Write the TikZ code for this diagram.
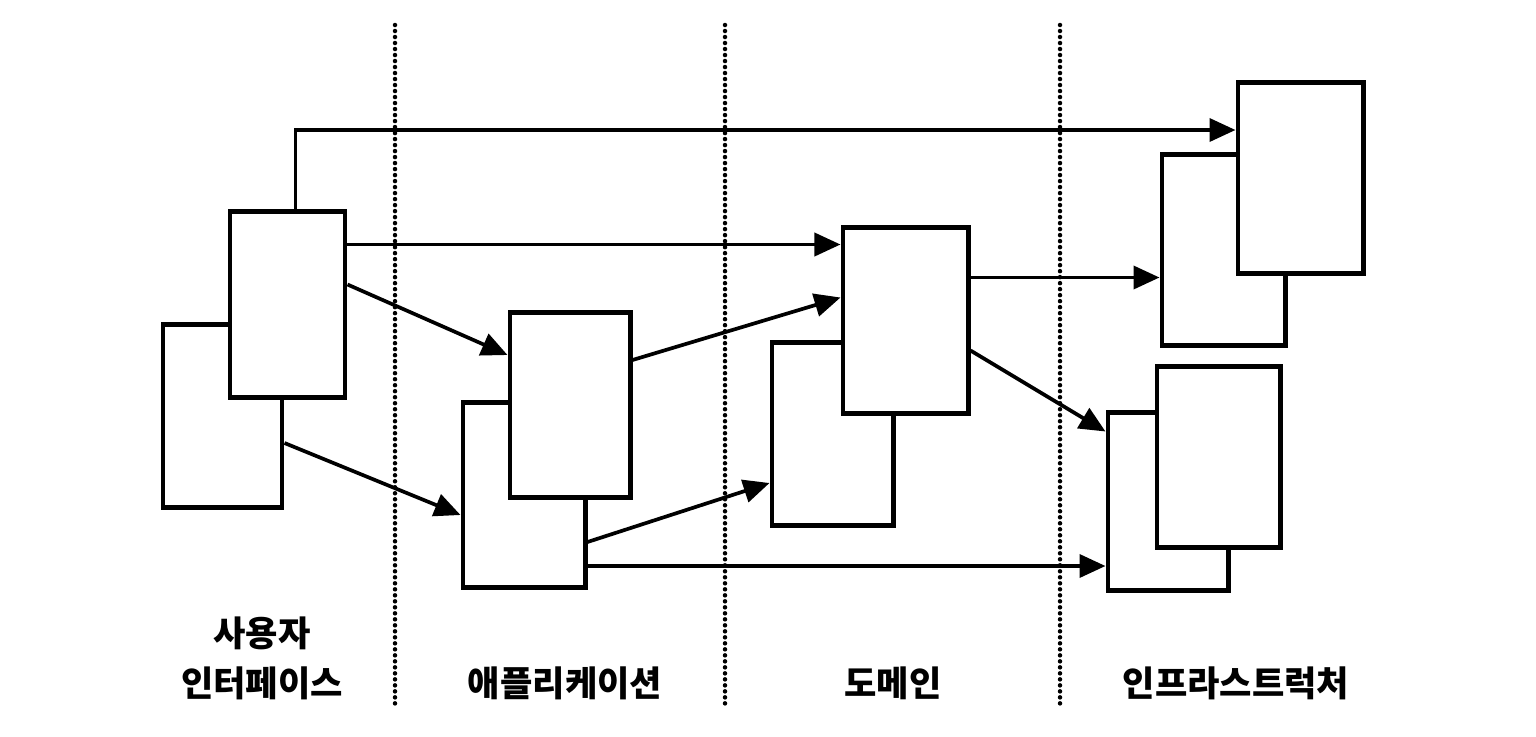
\documentclass[tikz,border=0pt]{standalone}
\usepackage{fontspec}
\newfontfamily\kofont{Noto Sans CJK KR}
\usetikzlibrary{arrows.meta, calc}

\begin{document}
\begin{tikzpicture}[x=0.01cm, y=-0.01cm,
  box/.style={draw, line width=1.4pt, fill=white, inner sep=0pt},
  conn/.style={line width=1.05pt, -{Triangle[length=0.26cm, width=0.23cm]}},
  divider/.style={line width=0.045cm, dash pattern=on 0pt off 0.06cm, line cap=round},
  layer/.style={font=\kofont\bfseries\fontsize{10pt}{14.2pt}\selectfont, align=center}]

\useasboundingbox (0,0) rectangle (1536,736);

% Layer borders
\draw [divider] ( 395, 25 ) -- ( 395, 705 );
\draw [divider] ( 725, 25 ) -- ( 725, 705 );
\draw [divider] ( 1060, 25 ) -- ( 1060, 705 );

% User interface
\node (uiB) at ( 222.5, 416 ) [box, minimum width=1.19cm, minimum height=1.82cm] {};
\node (uiF) at ( 287.5, 304.5 ) [box, minimum width=1.15cm, minimum height=1.85cm] {};

% Application
\node (appB) at ( 524, 495 ) [box, minimum width=1.22cm, minimum height=1.84cm] {};
\node (appF) at ( 570, 405 ) [box, minimum width=1.2cm, minimum height=1.84cm] {};

% Domain
\node (domB) at ( 832.5, 434 ) [box, minimum width=1.21cm, minimum height=1.82cm] {};
\node (domF) at ( 905.5, 320.5 ) [box, minimum width=1.25cm, minimum height=1.85cm] {};

% Infrastructure
\node (infB1) at ( 1223.5, 250 ) [box, minimum width=1.23cm, minimum height=1.9cm] {};
\node (infF1) at ( 1300.5, 178 ) [box, minimum width=1.25cm, minimum height=1.9cm] {};
\node (infB2) at ( 1168, 501.5 ) [box, minimum width=1.2cm, minimum height=1.77cm] {};
\node (infF2) at ( 1218.5, 457 ) [box, minimum width=1.23cm, minimum height=1.8cm] {};

% Dependencies
\draw [conn] ($(uiF.north)+(8,0)$) |- ($(infF1.west)+(0,-48)$);
\coordinate (s2) at ($(uiF.east)+(0,-60)$);
\draw [conn] (s2) -- (s2 -| domF.west);
\draw [conn] ($(uiF.east)+(0,-20)$) -- ($(appF.west)+(0,-50)$);
\draw [conn] ($(uiB.east)+(0,27)$) -- ($(appB.west)+(0,20)$);
\draw [conn] ($(appF.east)+(0,-45)$) -- ($(domF.west)+(0,-23)$);
\draw [conn] ($(appB.east)+(0,47)$) -- ($(domB.west)+(0,49)$);
\coordinate (s7) at ($(appB.east)+(0,71)$);
\draw [conn] (s7) -- (s7 -| infB2.west);
\coordinate (s8) at ($(domF.east)+(0,-43)$);
\draw [conn] (s8) -- (s8 -| infB1.west);
\draw [conn] ($(domF.east)+(0,30)$) -- ($(infB2.west)+(0,-70)$);

% Layer names
\node (lblUI) at ( 262, 658 ) [layer] {사용자\\인터페이스};
\node (lblApp) at ( 565, 683 ) [layer] {애플리케이션};
\node (lblDom) at ( 893, 683 ) [layer] {도메인};
\node (lblInf) at ( 1236, 683 ) [layer] {인프라스트럭처};

\end{tikzpicture}
\end{document}
